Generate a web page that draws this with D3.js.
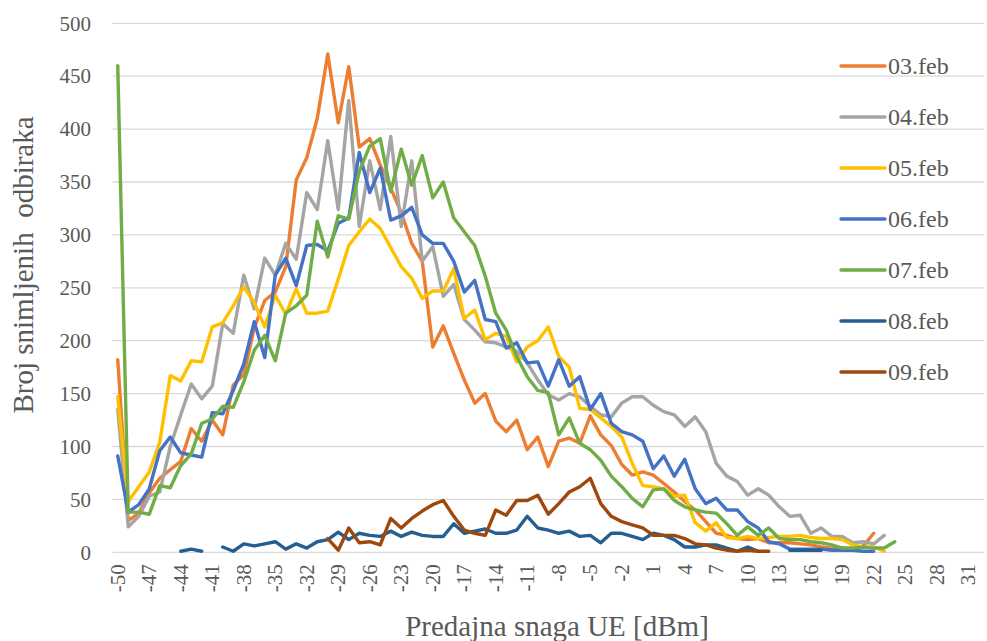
<!DOCTYPE html>
<html>
<head>
<meta charset="utf-8">
<script src="https://cdn.jsdelivr.net/npm/d3@7"></script>
<style>
  html, body { margin: 0; padding: 0; background: #fff; }
  svg { display: block; }
  text { font-family: "Liberation Serif", "Times New Roman", serif; fill: #595959; }
</style>
</head>
<body>
<svg id="chart" width="987" height="641"></svg>
<script>
// Categories: transmit power -50 .. 32 dBm
const categories = d3.range(-50, 33);
const xTickLabels = d3.range(-50, 33, 3).map(v => String(v));
const yTicks = [0, 50, 100, 150, 200, 250, 300, 350, 400, 450, 500];
const seriesNames = ["03.feb", "04.feb", "05.feb", "06.feb", "07.feb", "08.feb", "09.feb"];
const seriesColors = ["#ED7D31", "#A5A5A5", "#FFC000", "#4472C4", "#70AD47", "#255E91", "#9E480E"];

// values start at -50 dBm; null = no sample
const feb03 = [182,30,37,56,70,78,86,117,105,125, 111,158,168,212,238,246,270,352,373,410,
  471,406,459,383,391,366,344,321,292,275, 194,214,188,163,141,150,124,114,125,97,
  109,81,105,108,103,129,111,101,83,73, 76,73,65,57,48,40,29,18,16,13,
  12,13,9,9,9,8,7,5,4,4, 3,6,18];
const feb04 = [135,24,34,53,57,100,130,159,145,157, 216,207,262,230,278,262,292,277,340,324,
  389,324,427,308,370,324,393,308,370,275, 289,242,253,220,210,199,198,194,190,179,
  163,149,144,150,147,138,130,128,141,147, 147,139,133,130,119,128,114,84,72,67,
  54,60,54,43,34,35,18,23,15,15, 9,10,8,16];
const feb05 = [147,48,62,76,104,167,162,181,180,213, 217,233,251,236,213,243,225,249,226,226,
  228,258,290,303,315,306,288,270,259,240, 247,247,268,221,229,201,207,204,180,194,
  200,213,185,175,136,135,127,119,109,84, 63,62,60,53,54,28,20,28,14,13,
  15,13,14,15,15,16,14,13,13,12, 7,5,5,1];
const feb06 = [91,38,45,60,96,109,94,92,90,132, 131,153,178,218,184,262,278,252,290,291,
  285,311,316,378,340,363,314,318,326,300, 292,292,275,246,257,220,218,193,198,179,
  180,157,182,157,166,135,150,122,114,111, 105,79,91,72,88,60,46,51,40,40,
  29,23,10,8,3,3,3,3,2,2, 2,1,1];
const feb07 = [460,38,38,36,63,61,82,93,122,126, 138,137,161,191,205,181,226,233,243,313,
  279,318,315,360,384,391,341,381,347,375, 335,350,316,303,290,261,226,210,185,166,
  153,151,111,127,103,97,87,72,62,51, 43,59,60,49,43,40,38,37,27,16,
  24,16,23,13,12,12,10,9,7,4, 4,5,4,4,10];
const feb08 = [null,null,null,null,null,null,1,3,1,null, 5,1,8,6,8,10,3,8,4,10,
  12,19,12,18,16,15,20,15,19,16, 15,15,27,18,20,22,18,18,21,34,
  23,21,18,20,15,16,9,18,18,15, 12,18,16,12,5,5,7,7,4,1,
  5,1,null,null,2,2,2,2];
const feb09 = [null,null,null,null,null,null,null,null,null,null, null,null,null,null,null,null,null,null,null,null,
  13,2,23,9,10,7,32,23,32,39, 45,49,34,21,18,16,40,35,49,49,
  54,36,46,57,62,70,46,34,29,26, 23,16,16,16,13,8,7,4,2,1,
  2,1,1];
const seriesValues = [feb03, feb04, feb05, feb06, feb07, feb08, feb09];

const svg = d3.select("#chart");
const margin = { left: 112.5, right: 3, top: 23.3, bottom: 88.7 };
const W = 987, H = 641;

const x = d3.scaleBand()
  .domain(categories.map(String))
  .range([margin.left, W - margin.right])
  .paddingInner(0).paddingOuter(0);
const y = d3.scaleLinear().domain([0, 500]).range([H - margin.bottom, margin.top]);

// gridlines
svg.append("g")
  .selectAll("line")
  .data(yTicks)
  .join("line")
  .attr("x1", margin.left).attr("x2", W - margin.right)
  .attr("y1", d => y(d)).attr("y2", d => y(d))
  .attr("stroke", "#D9D9D9").attr("stroke-width", 1.3);

// y axis labels
const yAxis = d3.axisLeft(y).tickValues(yTicks).tickSize(0).tickPadding(0).tickFormat(d => String(d));
const gy = svg.append("g").attr("transform", `translate(91,0)`).call(yAxis);
gy.select(".domain").remove();
gy.selectAll("text").attr("font-size", 21).attr("fill", "#595959")
  .style("font-family", '"Liberation Serif", serif');

// x axis labels (every 3rd category, rotated)
const xAxis = d3.axisBottom(x).tickValues(xTickLabels).tickSize(0).tickFormat(d => d);
const gx = svg.append("g").attr("transform", `translate(0,${y(0)})`).call(xAxis);
gx.select(".domain").remove();
gx.selectAll("text")
  .attr("font-size", 21).attr("fill", "#595959")
  .style("font-family", '"Liberation Serif", serif')
  .attr("text-anchor", "end")
  .attr("transform", "translate(0,12) rotate(-90)")
  .attr("x", 0).attr("y", 0).attr("dy", "0.33em");

// lines
const line = d3.line()
  .defined(d => d.v !== null && d.v !== undefined)
  .x(d => x(d.c) + x.bandwidth() / 2)
  .y(d => y(d.v));

seriesValues.forEach((vals, k) => {
  const pts = vals.map((v, i) => ({ c: String(categories[i]), v: v }));
  svg.append("path")
    .datum(pts)
    .attr("d", line)
    .attr("fill", "none")
    .attr("stroke", seriesColors[k])
    .attr("stroke-width", 3.4)
    .attr("stroke-linejoin", "round")
    .attr("stroke-linecap", "round");
});

// legend
const lg = svg.append("g");
seriesNames.forEach((name, k) => {
  const cy = 66 + 51 * k;
  lg.append("line").attr("x1", 841).attr("x2", 885).attr("y1", cy).attr("y2", cy)
    .attr("stroke", seriesColors[k]).attr("stroke-width", 3.4).attr("stroke-linecap", "round");
  lg.append("text").attr("x", 888).attr("y", cy).attr("dy", "0.33em")
    .attr("font-size", 24).text(name);
});

// axis titles
svg.append("text")
  .attr("transform", `translate(33,265) rotate(-90)`)
  .attr("text-anchor", "middle")
  .attr("font-size", 29)
  .attr("xml:space", "preserve")
  .style("white-space", "pre")
  .text("Broj snimljenih  odbiraka");

svg.append("text")
  .attr("x", 557).attr("y", 636)
  .attr("text-anchor", "middle")
  .attr("font-size", 29)
  .text("Predajna snaga UE [dBm]");
</script>
</body>
</html>
